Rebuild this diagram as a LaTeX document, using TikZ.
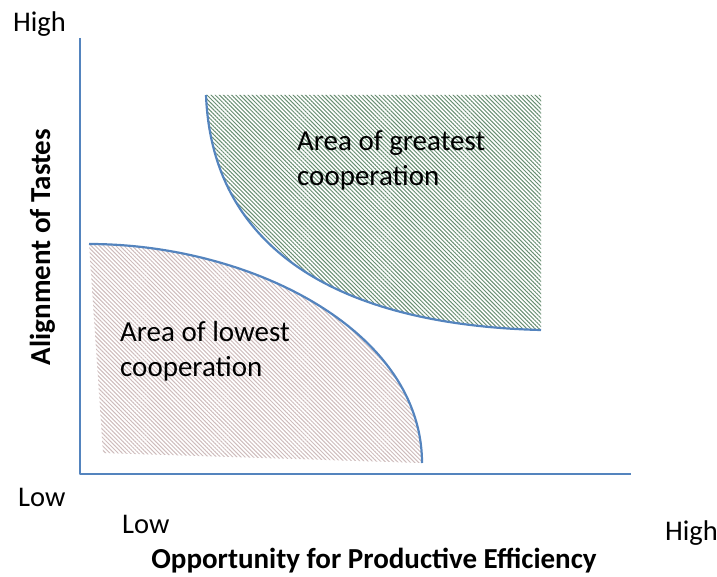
\documentclass[tikz,border=0pt]{standalone}
\usepackage{fontspec}
\setmainfont{Carlito}
\usetikzlibrary{patterns.meta,positioning}
\definecolor{axisblue}{RGB}{84,132,190}
\definecolor{hatchgreen}{RGB}{104,142,114}
\definecolor{hatchpink}{RGB}{206,188,188}
\tikzset{
	coop plot/.style={x=1pt, y=-1pt, line join=round},
	axis/.style={draw=axisblue, line width=2.6pt},
	rim/.style={draw=axisblue, line width=2.2pt},
	hatch/.style={pattern={Lines[angle=-45,distance=2.9pt,line width=1pt]}, pattern color=#1},
	tick label/.style={font=\fontsize{28.5}{32}\selectfont, inner sep=0pt},
	axis title/.style={font=\fontsize{29}{32}\selectfont\bfseries, inner sep=0pt},
	area label/.style={font=\fontsize{29}{35}\selectfont, align=left, inner sep=0pt}
}

\begin{document}
\begin{tikzpicture}[coop plot]
	\useasboundingbox (0,0) rectangle (717,577);
	\coordinate (O) at (80,474);
	\coordinate (ytop) at (80,38);
	\coordinate (xend) at (631,474);
	% hatched areas
	\coordinate (G1) at (206,95);
	\coordinate (G2) at (541,95);
	\coordinate (G3) at (541,330);
	\fill[hatch=hatchgreen] (G1) -- (G2) -- (G3) .. controls (340,325) and (212,250) .. (G1);
	\draw[rim] (G3) .. controls (340,325) and (212,250) .. (G1);
	\coordinate (L1) at (89,244);
	\coordinate (L2) at (422,463);
	\coordinate (L3) at (103,453);
	\fill[hatch=hatchpink] (L1) .. controls (250,244) and (422,330) .. (L2) -- (L3) -- cycle;
	\draw[rim] (L1) .. controls (250,244) and (422,330) .. (L2);
	% axes
	\draw[axis] (ytop) -- (O) -- (xend);
	\node[area label, anchor=base west] (great) at (297,186) {Area of greatest\\cooperation};
	\node[area label, anchor=base west] (low) at (120,376) {Area of lowest\\cooperation};
	\node[tick label, anchor=base west] (yhigh) at (13,32) {High};
	\node[tick label, anchor=base west] (ylow) at (18,506) {Low};
	\node[tick label, anchor=base west] (xlow) at (122,533) {Low};
	\node[tick label, anchor=base west] (xhigh) at (665,540) {High};
	\node[axis title, anchor=base] (xtitle) at (374,568) {Opportunity for Productive Efficiency};
	\node[axis title, rotate=90, anchor=base] (ytitle) at (50,247) {Alignment of Tastes};
\end{tikzpicture}
\end{document}
